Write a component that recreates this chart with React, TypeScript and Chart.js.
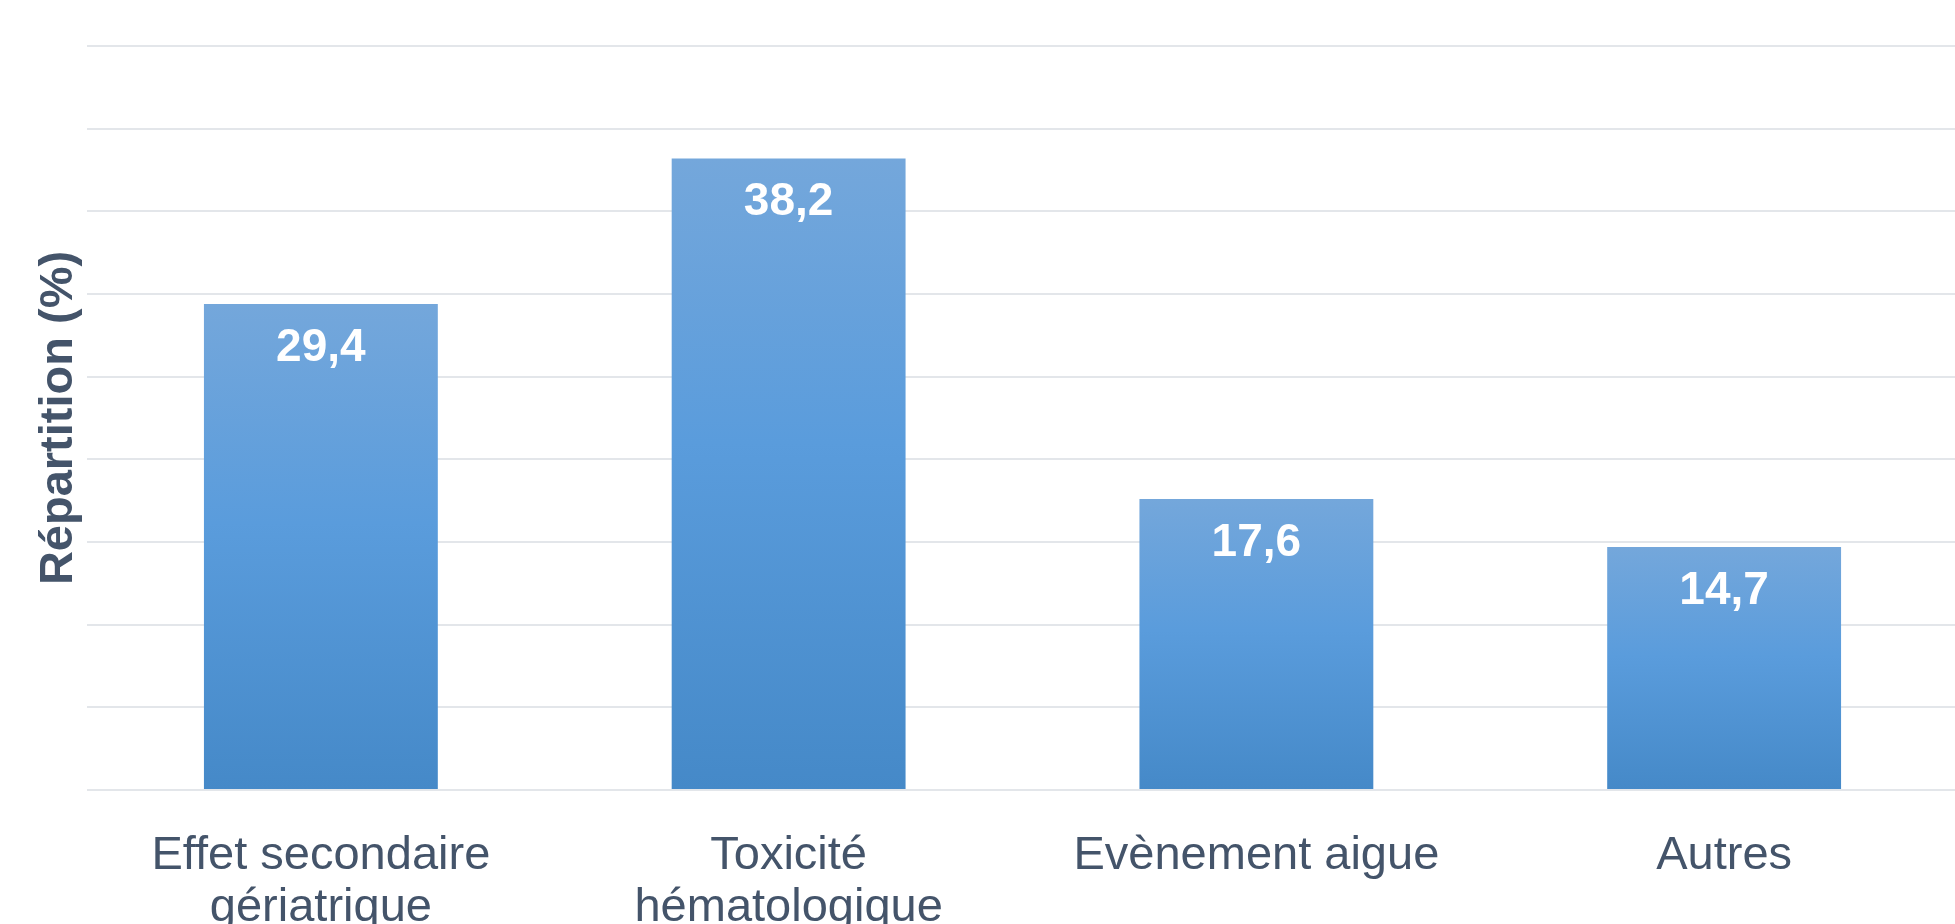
import React, { useEffect, useRef } from "react";
import { Chart, registerables } from "chart.js";

Chart.register(...registerables);

// Categories (multi-line labels) and their share in percent
const categories: string[][] = [
  ["Effet secondaire", "gériatrique"],
  ["Toxicité", "hématologique"],
  ["Evènement aigue"],
  ["Autres"],
];
const shares: number[] = [29.4, 38.2, 17.6, 14.7];

// Value axis range
const yMin = 0;
const yMax = 45;
const yStep = 5;

const TEXT = "#44546A";
const GRID = "#e3e6ea";
const FONT = "'Liberation Sans', Arial, sans-serif";

const CANVAS_W = 1958;
const CANVAS_H = 1000;

const formatFr = (v: number) => v.toFixed(1).replace(".", ",");

// White value labels written inside the top of each bar
const barValueLabels = {
  id: "barValueLabels",
  afterDatasetsDraw(chart: any) {
    const { ctx } = chart;
    const meta = chart.getDatasetMeta(0);
    const data = chart.data.datasets[0].data as number[];
    ctx.save();
    ctx.fillStyle = "#ffffff";
    ctx.font = `bold 46px ${FONT}`;
    ctx.textAlign = "center";
    ctx.textBaseline = "middle";
    meta.data.forEach((bar: any, i: number) => {
      ctx.fillText(formatFr(data[i]), bar.x, bar.y + 44);
    });
    ctx.restore();
  },
};

export default function App() {
  const canvasRef = useRef<HTMLCanvasElement | null>(null);

  useEffect(() => {
    const canvas = canvasRef.current;
    if (!canvas) return;

    // Each bar gets its own vertical gradient from its top down to the baseline
    const barFill = (ctx: any) => {
      const chart = ctx.chart;
      const y = chart.scales?.y;
      if (!y || ctx.dataIndex === undefined) return "#5A9BDA";
      const v = ctx.dataset.data[ctx.dataIndex] as number;
      const top = y.getPixelForValue(v);
      const base = y.getPixelForValue(0);
      if (!Number.isFinite(top) || !Number.isFinite(base) || top === base) {
        return "#5A9BDA";
      }
      const g = chart.ctx.createLinearGradient(0, top, 0, base);
      g.addColorStop(0, "#74A7DB");
      g.addColorStop(0.45, "#5A9CDC");
      g.addColorStop(1, "#4589C8");
      return g;
    };

    const chart = new Chart(canvas, {
      type: "bar",
      data: {
        labels: categories,
        datasets: [
          {
            data: shares,
            backgroundColor: barFill,
            borderWidth: 0,
            categoryPercentage: 1,
            barPercentage: 0.5,
          },
        ],
      },
      options: {
        responsive: false,
        animation: false,
        layout: { padding: { top: 46, left: 0, right: 0, bottom: 0 } },
        plugins: {
          legend: { display: false },
          tooltip: { enabled: false },
        },
        scales: {
          x: {
            grid: { display: false },
            border: { display: false },
            ticks: {
              color: TEXT,
              font: { family: FONT, size: 47, lineHeight: 1.1 },
              padding: 32,
              maxRotation: 0,
              autoSkip: false,
            },
            afterFit: (s: any) => {
              s.height = CANVAS_H - 790;
            },
          },
          y: {
            min: yMin,
            max: yMax,
            grid: { color: GRID, lineWidth: 2, drawTicks: false },
            border: { display: false },
            ticks: { display: false, stepSize: yStep },
            title: {
              display: true,
              text: "Répartition (%)",
              color: TEXT,
              font: { family: FONT, size: 47, weight: "bold" },
              padding: { top: 31, bottom: 0 },
            },
            afterFit: (s: any) => {
              s.width = 87;
            },
          },
        },
      },
      plugins: [barValueLabels],
    });

    return () => chart.destroy();
  }, []);

  return (
    <div
      style={{
        position: "absolute",
        left: 0,
        top: 0,
        width: 1955,
        height: 924,
        overflow: "hidden",
        background: "#ffffff",
      }}
    >
      <canvas
        ref={canvasRef}
        width={CANVAS_W}
        height={CANVAS_H}
        style={{ display: "block", width: CANVAS_W, height: CANVAS_H }}
      />
    </div>
  );
}
